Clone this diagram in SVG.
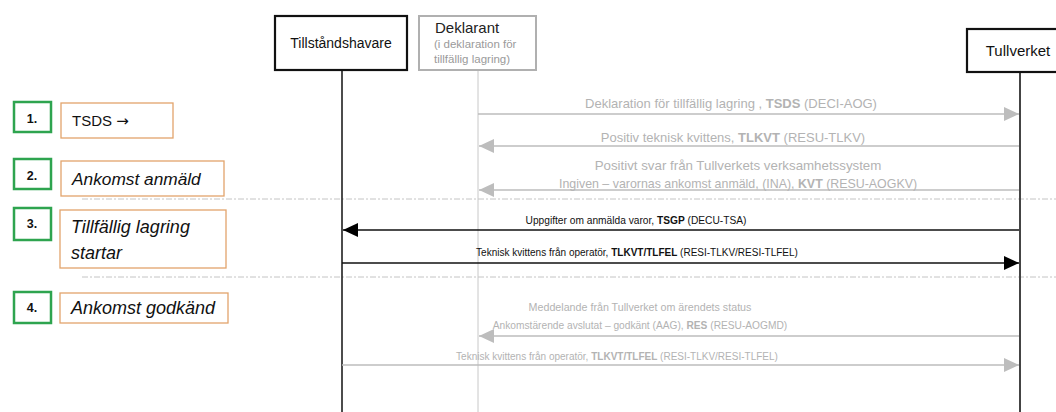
<svg xmlns="http://www.w3.org/2000/svg" width="1056" height="412" viewBox="0 0 1056 412">
<style>
text{font-family:"Liberation Sans",Arial,sans-serif;}
.lbl{text-anchor:middle;}
.g{fill:#b3b3b3;}
.k{fill:#111;}
.b{font-weight:bold;}
.gl{stroke:#bdbdbd;stroke-width:1.5;fill:none;}
.kl{stroke:#111;stroke-width:1.5;fill:none;}
.sep{stroke:#c4c4c4;stroke-width:1;stroke-dasharray:6 2 2 2;}
.num{fill:#fff;stroke:#2ea44f;stroke-width:2.5;}
.step{fill:#fff;stroke:#e2a46c;stroke-width:1.3;}
.nt{font-size:12.5px;font-weight:bold;text-anchor:middle;fill:#111;}
.st{font-style:italic;fill:#111;}
</style>
<defs>
<marker id="ag" markerUnits="userSpaceOnUse" markerWidth="16" markerHeight="14" refX="15" refY="7" orient="auto"><path d="M0,0 L15,7 L0,14 Z" fill="#bdbdbd"/></marker>
<marker id="ak" markerUnits="userSpaceOnUse" markerWidth="16" markerHeight="14" refX="15" refY="7" orient="auto"><path d="M0,0 L15,7 L0,14 Z" fill="#000"/></marker>
</defs>
<rect width="1056" height="412" fill="#fff"/>
<g id="separators">
<line class="sep" x1="82" y1="199" x2="1056" y2="199"/>
<line class="sep" x1="82" y1="277" x2="1056" y2="277"/>
</g>
<g id="lifelines">
<line x1="342" y1="70" x2="342" y2="412" stroke="#111" stroke-width="1.5"/>
<line x1="478" y1="70" x2="478" y2="412" stroke="#c8c8c8" stroke-width="1"/>
<line x1="1020" y1="72" x2="1020" y2="412" stroke="#444" stroke-width="2"/>
</g>
<g id="node-tillstandshavare">
<rect x="275" y="16" width="132" height="54" fill="#fff" stroke="#111" stroke-width="2.2"/>
<text x="341" y="48" font-size="14" text-anchor="middle" fill="#111">Tillståndshavare</text>
</g>
<g id="node-deklarant">
<rect x="419" y="16" width="117" height="54" fill="#fff" stroke="#b0b0b0" stroke-width="2"/>
<text x="435" y="33" font-size="15" fill="#222">Deklarant</text>
<text x="434" y="48" font-size="11.5" fill="#9a9a9a">(i deklaration för</text>
<text x="434" y="63" font-size="11.5" fill="#9a9a9a">tillfällig lagring)</text>
</g>
<g id="node-tullverket">
<rect x="967" y="29" width="100" height="43" fill="#fff" stroke="#111" stroke-width="2.2"/>
<text x="1018" y="56" font-size="15" text-anchor="middle" fill="#111">Tullverket</text>
</g>
<g id="step-1">
<rect class="num" x="14" y="102" width="37" height="30"/>
<text class="nt" x="32" y="123">1.</text>
<rect class="step" x="61" y="103" width="112" height="35"/>
<text x="72" y="126" font-size="15" fill="#111">TSDS <tspan font-family="DejaVu Sans, sans-serif">→</tspan></text>
</g>
<g id="step-2">
<rect class="num" x="14" y="159" width="37" height="30"/>
<text class="nt" x="32" y="180">2.</text>
<rect class="step" x="61" y="161" width="163" height="35"/>
<text class="st" x="72" y="185" font-size="17.3">Ankomst anmäld</text>
</g>
<g id="step-3">
<rect class="num" x="14" y="208" width="37" height="32"/>
<text class="nt" x="32" y="228">3.</text>
<rect class="step" x="60" y="210" width="166" height="58"/>
<text class="st" x="71" y="233" font-size="18">Tillfällig lagring</text>
<text class="st" x="71" y="259" font-size="18">startar</text>
</g>
<g id="step-4">
<rect class="num" x="14" y="292" width="37" height="31"/>
<text class="nt" x="32" y="312">4.</text>
<rect class="step" x="60" y="293" width="168" height="30"/>
<text class="st" x="71" y="314" font-size="18">Ankomst godkänd</text>
</g>
<g id="connectors">
<line class="gl" x1="478" y1="114" x2="1019" y2="114" marker-end="url(#ag)"/>
<text class="lbl g" x="731" y="107.5" font-size="13">Deklaration för tillfällig lagring , <tspan class="b">TSDS</tspan> (DECI-AOG)</text>
<line class="gl" x1="1019" y1="146" x2="479" y2="146" marker-end="url(#ag)"/>
<text class="lbl g" x="733" y="141.5" font-size="13">Positiv teknisk kvittens, <tspan class="b">TLKVT</tspan> (RESU-TLKV)</text>
<line class="gl" x1="1019" y1="190" x2="479" y2="190" marker-end="url(#ag)"/>
<text class="lbl g" x="738" y="169.5" font-size="13.3">Positivt svar från Tullverkets verksamhetssystem</text>
<text class="lbl g" x="738" y="187.5" font-size="12.4">Ingiven – varornas ankomst anmäld, (INA), <tspan class="b">KVT</tspan> (RESU-AOGKV)</text>
<line class="kl" x1="1019" y1="230" x2="343" y2="230" marker-end="url(#ak)"/>
<text class="lbl k" x="636" y="223.5" font-size="10.2">Uppgifter om anmälda varor, <tspan class="b">TSGP</tspan> (DECU-TSA)</text>
<line class="kl" x1="342" y1="263" x2="1019" y2="263" marker-end="url(#ak)"/>
<text class="lbl k" x="637" y="255.5" font-size="10">Teknisk kvittens från operatör, <tspan class="b">TLKVT/TLFEL</tspan> (RESI-TLKV/RESI-TLFEL)</text>
<line class="gl" x1="1019" y1="336" x2="479" y2="336" marker-end="url(#ag)"/>
<text class="lbl g" x="640" y="310.5" font-size="10.7">Meddelande från Tullverket om ärendets status</text>
<text class="lbl g" x="640" y="328.5" font-size="10.2">Ankomstärende avslutat – godkänt (AAG), <tspan class="b">RES</tspan> (RESU-AOGMD)</text>
<line class="gl" x1="342" y1="365" x2="1019" y2="365" marker-end="url(#ag)"/>
<text class="lbl g" x="617" y="359.5" font-size="10">Teknisk kvittens från operatör, <tspan class="b">TLKVT/TLFEL</tspan> (RESI-TLKV/RESI-TLFEL)</text>
</g>
</svg>
